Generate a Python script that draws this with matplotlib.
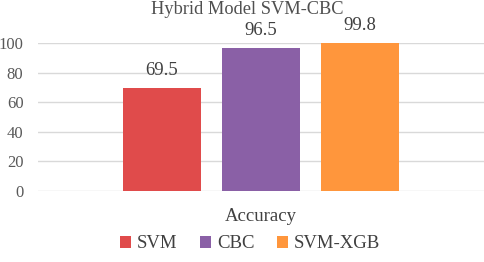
import matplotlib.pyplot as plt
import numpy as np

models = ["SVM", "CBC", "SVM-XGB"]
accuracy = [69.5, 96.5, 99.8]
colors = ["#E04B4B", "#8A60A6", "#FF963C"]
yticks = [0, 20, 40, 60, 80, 100]

plt.rcParams["font.family"] = ["Liberation Serif", "DejaVu Serif"]

fig = plt.figure(figsize=(4.84, 2.62), dpi=100)
ax = fig.add_axes([38 / 484, 1 - 191 / 262, 1 - 38 / 484, (191 - 43) / 262])

xpos = np.arange(len(models)) - 1
bars = ax.bar(xpos, accuracy, width=0.79, color=colors, label=models, zorder=3)
for b, v in zip(bars, accuracy):
    ax.text(b.get_x() + b.get_width() / 2, v + 6, f"{v:.1f}", ha="center",
            va="bottom", fontsize=13.5, color="#404040", clip_on=False)

ax.set_xlim(-2.25, 2.25)
ax.set_ylim(0, 100)
ax.set_yticks(yticks)
ax.yaxis.grid(True, color="#D9D9D9", linewidth=1)
ax.tick_params(axis="y", length=0, labelsize=12, labelcolor="#595959", pad=10.5)
ax.set_xticks([0])
ax.set_xticklabels(["Accuracy"], fontsize=13.5, color="#404040")
ax.tick_params(axis="x", length=0, pad=12)
for s in ax.spines.values():
    s.set_visible(False)

fig.text(0.5 + 5 / 484, 1 - 10 / 262, "Hybrid Model SVM-CBC", ha="center",
         va="center", fontsize=13.2, color="#505050")

fig.legend(bars, models, loc="center", bbox_to_anchor=(250 / 484, 1 - 244 / 262),
           ncol=3, frameon=False, fontsize=13.5, handlelength=0.6,
           handleheight=0.6, handletextpad=0.3, columnspacing=1.2,
           labelcolor="#404040")

fig.savefig("out.png", dpi=100)
